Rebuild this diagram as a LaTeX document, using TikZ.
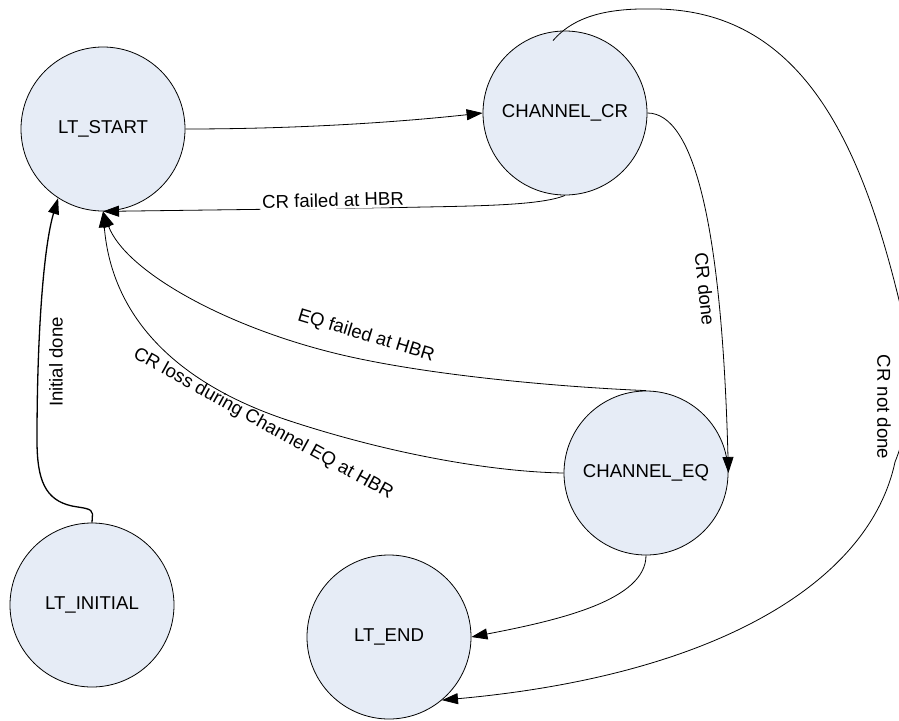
\documentclass[tikz,border=0pt]{standalone}
\usepackage{fontspec}
\setmainfont{Liberation Sans}
\usetikzlibrary{arrows.meta}
\definecolor{statefill}{RGB}{230,236,246}
\begin{document}
\begin{tikzpicture}[x=1pt,y=-1pt,
  state/.style={circle,draw=black,line width=0.8pt,fill=statefill,
    minimum size=164pt,inner sep=0pt,font=\fontsize{18.6}{21}\selectfont},
  trans/.style={draw=black,line width=0.8pt,-{Triangle[length=16pt,width=11pt]}},
  thicktrans/.style={trans,line width=1.3pt},
  lbl/.style={font=\fontsize{18.6}{21}\selectfont,inner sep=1pt},
  onlbl/.style={lbl,fill=white,inner sep=2pt}]
\useasboundingbox[fill=white] (0,0) rectangle (899,720);

% states
\node[state] (start) at (103,129) {LT\_START};
\node[state] (cr)    at (565,113) {CHANNEL\_CR};
\node[state] (eq)    at (646,473) {CHANNEL\_EQ};
\node[state] (init)  at (92,605)  {LT\_INITIAL};
\node[state] (end)   at (389,637) {LT\_END};

% transitions
\draw[trans] (start.east) .. controls (300,129) and (400,122) .. (cr.west);

\draw[trans] (cr.south) .. controls (540,206) and (470,206) .. (400,207.5)
  -- (start.south);

\draw[trans] (cr.east) .. controls (695,113) and (722,230) .. (eq.east);

\draw[trans] ([shift={(-12,10)}]cr.north)
  .. controls (575,15) and (610,8) .. (655,9)
  .. controls (800,10) and (860,140) .. (899,300)
  .. controls (915,365) and (912,420) .. (895,462)
  .. controls (870,580) and (720,675) .. (end.-50);

\draw[trans] (eq.north) .. controls (560,387) and (420,375) .. (330,352)
  .. controls (220,324) and (125,270) .. (start.south);

\draw[trans] (eq.west) .. controls (500,472) and (400,457) .. (290,421)
  .. controls (180,385) and (112,320) .. (start.south);

\draw[trans] (eq.south) .. controls (646,600) and (560,620) .. (end.east);

\draw[thicktrans] (init.north) -- (92.5,514)
  .. controls (92.5,508) and (82,508) .. (72,506)
  .. controls (45,500) and (37,480) .. (37,440)
  .. controls (37,330) and (44,245) .. (start.-123);

% transition labels
\node[onlbl,rotate=1.6] (lcrfail) at (333,200) {CR failed at HBR};
\node[onlbl,rotate=-84] (lcrdone) at (705,289) {CR done};
\node[onlbl,rotate=-90] (lcrnot) at (884,407) {CR not done};
\node[lbl,rotate=-17] (leqfail) at (366,336) {EQ failed at HBR};
\node[lbl,rotate=-29] (lcrloss) at (263,424) {CR loss during Channel EQ at HBR};
\node[lbl,rotate=90] (linit) at (56,362) {Initial done};
\end{tikzpicture}
\end{document}
